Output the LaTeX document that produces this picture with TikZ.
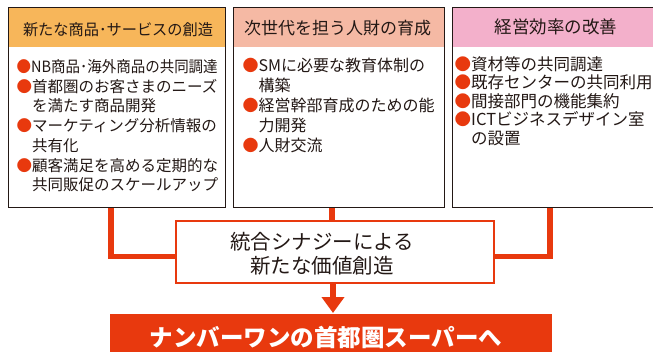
\documentclass[tikz,border=0pt]{standalone}
\usepackage{fontspec}
\usepackage{graphicx}
\setmainfont{Noto Sans CJK JP}
\usetikzlibrary{arrows.meta}
\definecolor{accent}{HTML}{E8390E}
\definecolor{ink}{HTML}{231815}
\definecolor{hOrange}{HTML}{F7B65A}
\definecolor{hSalmon}{HTML}{F5B9A4}
\definecolor{hPink}{HTML}{F3B0CB}
\newcommand\bul{{\color{accent}●}}
\newcommand\ind{\hspace*{1em}}
\newcommand\firststrut{\rule{0pt}{15pt}}
\begin{document}
\begin{tikzpicture}[x=1pt,y=-1pt,
 panel/.style={draw=ink, line width=1.4pt, minimum height=200pt, inner sep=0pt, anchor=north west},
 hdr/.style={inner sep=0pt, minimum height=40pt, anchor=north west},
 htext/.style={font=\fontsize{17}{20}\selectfont, text=ink, inner sep=0pt},
 body/.style={text=ink, inner sep=0pt, align=left, anchor=north west},
 link/.style={draw=accent, line width=5.5pt, line join=miter},
]
\useasboundingbox (0,0) rectangle (653,351);
\clip (0,0) rectangle (653,351);
\fill[white] (0,0) rectangle (653,351);

% headers
\node[hdr, fill=hOrange, minimum width=217pt] (h1) at (8,7) {};
\node[hdr, fill=hSalmon, minimum width=211pt] (h2) at (232.5,7) {};
\node[hdr, fill=hPink, minimum width=208pt] (h3) at (452,7) {};

% panels
\node[panel, minimum width=217pt] (b1) at (8,7) {};
\node[panel, minimum width=211pt] (b2) at (232.5,7) {};
\node[panel, minimum width=208pt] (b3) at (452,7) {};

% header texts
\node[htext, font=\fontsize{15.5}{18}\selectfont] (t1) at (118,30) {\resizebox{190pt}{\height}{新たな商品･サービスの創造}};
\node[htext] (t2) at (337.5,28.5) {次世代を担う人財の育成};
\node[htext, font=\fontsize{17.5}{20}\selectfont] (t3) at (556,27) {経営効率の改善};

% bodies
\node[body, font=\fontsize{15.5}{19.7}\selectfont] (x1) at (16.5,57.3) {%
\firststrut\resizebox{201pt}{\height}{\bul NB商品･海外商品の共同調達}\\
\bul 首都圏のお客さまのニーズ\\
\ind を満たす商品開発\\
\bul マーケティング分析情報の\\
\ind 共有化\\
\bul 顧客満足を高める定期的な\\
\ind 共同販促のスケールアップ};
\node[body, font=\fontsize{16}{20}\selectfont] (x2) at (242.5,55.8) {%
\firststrut\bul SMに必要な教育体制の\\
\ind 構築\\
\bul 経営幹部育成のための能\\
\ind 力開発\\
\bul 人財交流};
\node[body, font=\fontsize{16.5}{18.4}\selectfont] (x3) at (454.5,55.3) {%
\firststrut\bul 資材等の共同調達\\
\bul 既存センターの共同利用\\
\bul 間接部門の機能集約\\
\bul ICTビジネスデザイン室\\
\ind の設置};

% synergy box
\node[draw=accent, line width=2.2pt, fill=white, minimum width=318pt, minimum height=62pt, inner sep=0pt] (syn) at (335,252) {};
\node[text=ink, align=center, inner sep=0pt, font=\fontsize{20.5}{24}\selectfont] (synt) at (322,254) {統合シナジーによる\\新たな価値創造};

% goal
\node[fill=accent, minimum width=442pt, minimum height=41pt, inner sep=0pt, anchor=north west] (goal) at (110,314) {};
\node[text=white, inner sep=0pt, font=\bfseries\fontsize{23.5}{26}\selectfont] (goalt) at (326,337) {ナンバーワンの首都圏スーパーへ};

% connectors
\coordinate (lx) at (111,0);
\coordinate (mx) at (332,0);
\coordinate (rx) at (550,0);
\coordinate (ax) at (333,0);
\coordinate (ly) at (0,256.5);
\draw[link] (b1.south -| lx) -- (lx |- ly) -- (syn.west |- ly);
\draw[link] (b3.south -| rx) -- (rx |- ly) -- (syn.east |- ly);
\draw[link] (b2.south -| mx) -- (syn.north -| mx);
\draw[link, -{Triangle[width=22pt,length=16pt]}, shorten >=1pt] (syn.south -| ax) -- (goal.north -| ax);
\end{tikzpicture}
\end{document}
